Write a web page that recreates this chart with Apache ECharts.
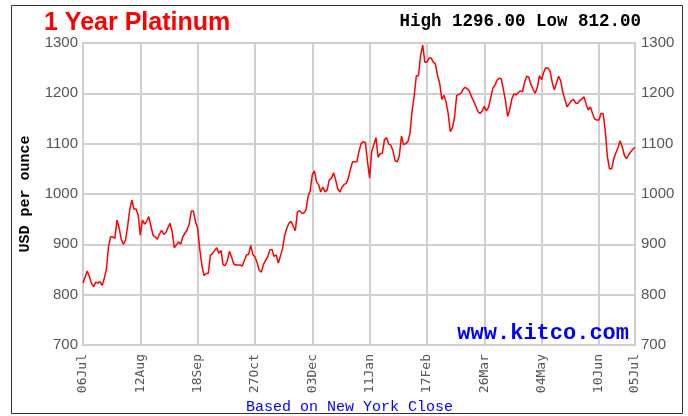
<!DOCTYPE html>
<html>
<head>
<meta charset="utf-8">
<script src="https://cdn.jsdelivr.net/npm/echarts@6/dist/echarts.min.js"></script>
<style>
  html, body { margin: 0; padding: 0; background: #fff; }
  #chart { width: 688px; height: 416px; }
</style>
</head>
<body>
<div id="chart"></div>
<script>
  // trading days 06Jul2020 .. 05Jul2021, one close per weekday
  var startDay = '2020-07-06';
  var endDay = '2021-07-05';
  var tickLabels = ['06Jul', '12Aug', '18Sep', '27Oct', '03Dec', '11Jan', '17Feb', '26Mar', '04May', '10Jun', '05Jul'];
  var yTicks = [700, 800, 900, 1000, 1100, 1200, 1300];

  var prices = [
    823, 835, 847, 836, 822, 816, 825, 823, 826, 818,
    832, 850, 895, 915, 915, 912, 948, 933, 910, 900,
    908, 935, 968, 988, 970, 970, 958, 918, 948, 940,
    946, 955, 936, 918, 915, 910, 920, 928, 920, 923,
    933, 942, 925, 893, 899, 905, 900, 915, 922, 928,
    940, 966, 966, 945, 932, 890, 858, 838, 842, 842,
    878, 882, 888, 893, 882, 888, 859, 858, 868, 886,
    875, 861, 859, 859, 859, 857, 868, 879, 880, 898,
    880, 875, 864, 848, 845, 860, 868, 875, 889, 890,
    876, 879, 863, 877, 892, 918, 932, 942, 946, 936,
    927, 964, 967, 962, 962, 968, 995, 1006, 1038, 1046,
    1024, 1018, 1004, 1014, 1004, 1008, 1028, 1031, 1042, 1028,
    1010, 1004, 1014, 1019, 1021, 1032, 1050, 1064, 1064, 1064,
    1085, 1100, 1104, 1102, 1065, 1032, 1085, 1098, 1112, 1073,
    1080, 1081, 1108, 1112, 1099, 1097, 1086, 1066, 1064, 1076,
    1115, 1098, 1100, 1104, 1120, 1165, 1195, 1235, 1235, 1275,
    1296, 1262, 1262, 1270, 1270, 1262, 1258, 1235, 1220, 1188,
    1196, 1183, 1160, 1124, 1132, 1152, 1196, 1198, 1200, 1208,
    1212, 1209, 1204, 1193, 1185, 1175, 1164, 1160, 1165, 1174,
    1165, 1172, 1190, 1210, 1216, 1226, 1230, 1229, 1208, 1185,
    1154, 1168, 1189, 1199, 1197, 1201, 1205, 1203, 1222, 1234,
    1232, 1217, 1208, 1200, 1212, 1235, 1227, 1242, 1251, 1250,
    1244, 1222, 1207, 1220, 1234, 1225, 1202, 1188, 1173, 1179,
    1185, 1188, 1181, 1180, 1186, 1189, 1193, 1178, 1167, 1173,
    1160, 1149, 1147, 1147, 1160, 1160, 1125, 1074, 1050, 1050,
    1070, 1082, 1092, 1106, 1093, 1077, 1070, 1078, 1084, 1089,
    1093
  ];

  var monthNames = ['Jan', 'Feb', 'Mar', 'Apr', 'May', 'Jun', 'Jul', 'Aug', 'Sep', 'Oct', 'Nov', 'Dec'];
  var days = [];
  var d = new Date(startDay + 'T00:00:00Z');
  var end = new Date(endDay + 'T00:00:00Z');
  while (d <= end) {
    var wd = d.getUTCDay();
    if (wd !== 0 && wd !== 6) {
      var dd = d.getUTCDate();
      days.push((dd < 10 ? '0' : '') + dd + monthNames[d.getUTCMonth()]);
    }
    d.setUTCDate(d.getUTCDate() + 1);
  }

  function isTick(index, value) {
    return tickLabels.indexOf(value) >= 0;
  }

  var chart = echarts.init(document.getElementById('chart'));

  var yLabelStyle = {
    color: '#555',
    fontFamily: 'Liberation Sans, Arial, sans-serif',
    fontSize: 15,
    formatter: function (v) { return String(v); }
  };

  var option = {
    backgroundColor: '#fff',
    animation: false,
    title: {
      text: '1 Year Platinum',
      left: 39,
      top: 6,
      textStyle: { color: '#ff0000', fontSize: 25, fontWeight: 'bold', fontFamily: 'Liberation Sans, Arial, sans-serif' }
    },
    grid: { left: 83, right: 53, top: 43, bottom: 71, show: true, borderColor: '#c4c4c4', borderWidth: 2 },
    xAxis: {
      type: 'category',
      data: days,
      boundaryGap: false,
      axisLine: { show: false },
      axisTick: { show: false },
      axisLabel: {
        interval: isTick,
        rotate: 90,
        margin: 9,
        color: '#555',
        fontFamily: 'DejaVu Sans Mono, monospace',
        fontSize: 13
      },
      splitLine: { show: true, interval: isTick, lineStyle: { color: '#cfcfcf', width: 2 } }
    },
    yAxis: [
      {
        type: 'value',
        min: yTicks[0],
        max: yTicks[yTicks.length - 1],
        interval: 100,
        name: 'USD per ounce',
        nameLocation: 'middle',
        nameGap: 50,
        nameTextStyle: { color: '#000', fontWeight: 'bold', fontSize: 15, fontFamily: 'Liberation Mono, DejaVu Sans Mono, monospace' },
        axisLine: { show: false },
        axisTick: { show: false },
        axisLabel: Object.assign({ margin: 5 }, yLabelStyle),
        splitLine: { lineStyle: { color: '#cfcfcf', width: 2 } }
      },
      {
        type: 'value',
        position: 'right',
        min: yTicks[0],
        max: yTicks[yTicks.length - 1],
        interval: 100,
        axisLine: { show: false },
        axisTick: { show: false },
        axisLabel: Object.assign({ margin: 6 }, yLabelStyle),
        splitLine: { show: false }
      }
    ],
    series: [
      {
        type: 'line',
        data: prices,
        showSymbol: false,
        lineStyle: { color: '#ff0000', width: 1.5 },
        itemStyle: { color: '#ff0000' }
      }
    ],
    graphic: [
      {
        type: 'rect',
        shape: { x: 11.5, y: 5.5, width: 671, height: 408 },
        style: { fill: null, stroke: '#333', lineWidth: 1 },
        silent: true
      },
      {
        type: 'text',
        right: 47,
        top: 13,
        style: { text: 'High 1296.00 Low 812.00', fill: '#000', font: 'bold 17.5px "Liberation Mono", "DejaVu Sans Mono", monospace' }
      },
      {
        type: 'text',
        right: 59,
        top: 322,
        z: 10,
        style: { text: 'www.kitco.com', fill: '#0000ff', font: 'bold 22px "Liberation Mono", "DejaVu Sans Mono", monospace' }
      },
      {
        type: 'text',
        left: 246,
        top: 400,
        style: { text: 'Based on New York Close', fill: '#0000ff', font: '15px "Liberation Mono", "DejaVu Sans Mono", monospace' }
      }
    ]
  };

  chart.setOption(option);
</script>
</body>
</html>
